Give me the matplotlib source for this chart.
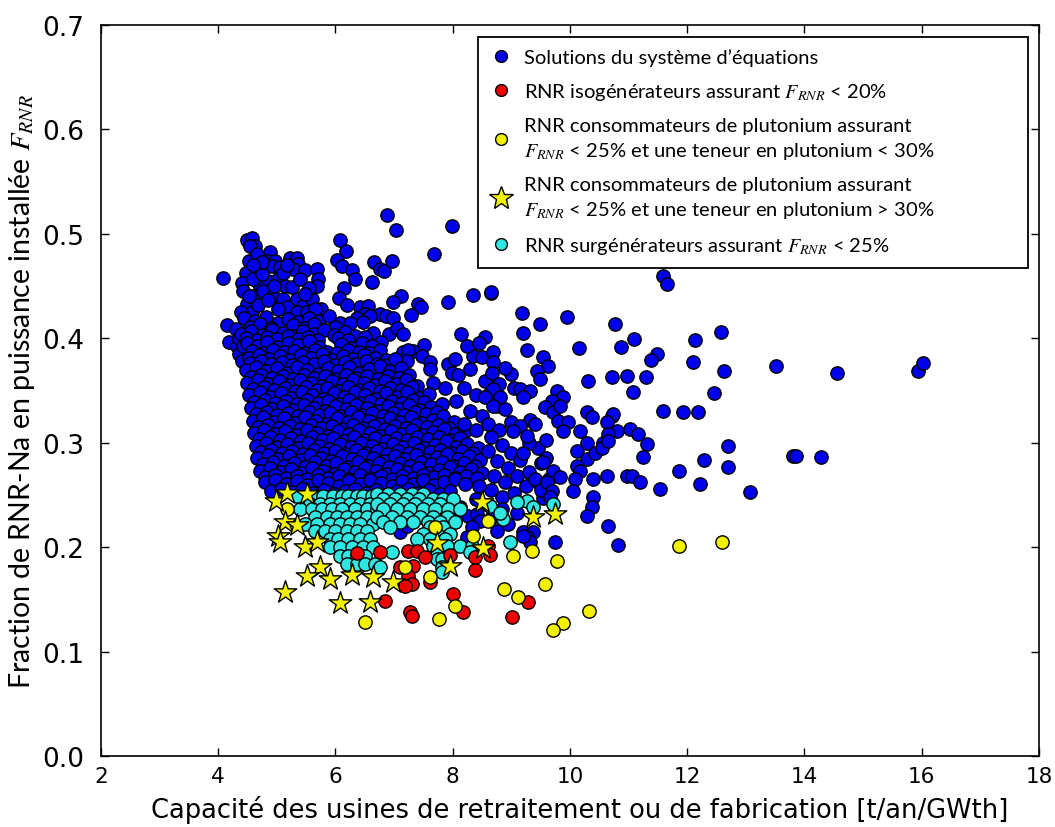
import numpy as np
import matplotlib.pyplot as plt
from matplotlib.lines import Line2D

plt.rcParams['mathtext.fontset'] = 'stix'

# points: (capacite [t/an/GWth], F_RNR)
# solutions du systeme d'equations (blue)
blue_pts = [
    # top-left fringe
    (4.50, 0.494), (4.58, 0.496), (4.63, 0.488), (4.55, 0.488), (4.52, 0.474), (4.09, 0.457),
    (4.88, 0.482), (4.83, 0.474), (4.97, 0.474), (4.92, 0.469), (4.68, 0.466), (4.70, 0.452),
    (4.48, 0.462), (5.05, 0.468), (4.85, 0.455),
    (5.22, 0.477), (5.34, 0.477), (5.36, 0.471), (5.28, 0.466),
    (5.48, 0.465), (5.69, 0.466), (5.70, 0.456), (5.69, 0.450),
    (4.41, 0.453), (4.60, 0.456), (4.75, 0.461), (5.02, 0.456), (5.14, 0.450), (5.26, 0.449), (5.40, 0.456),
    (4.43, 0.445), (4.60, 0.440), (4.77, 0.445), (4.94, 0.440), (5.11, 0.437), (5.35, 0.437), (5.45, 0.431), (5.60, 0.437),
    (4.50, 0.433), (4.58, 0.425), (5.18, 0.430), (5.35, 0.425), (5.52, 0.425), (5.75, 0.428),
    (4.16, 0.412), (4.30, 0.409), (4.18, 0.396), (4.33, 0.392), (4.35, 0.385), (4.41, 0.378),
    (4.66, 0.480), (4.75, 0.473), (4.60, 0.470), (5.10, 0.462), (5.18, 0.470), (4.95, 0.450),
    (5.55, 0.448), (5.48, 0.442), (4.68, 0.432), (4.85, 0.436), (5.02, 0.428), (5.65, 0.428),
    (4.52, 0.440), (4.40, 0.425), (4.35, 0.400), (4.42, 0.392),
    # middle fringe
    (6.88, 0.518), (7.03, 0.503), (7.99, 0.507), (7.68, 0.480), (6.08, 0.494), (6.18, 0.483),
    (6.03, 0.475), (6.11, 0.469), (6.29, 0.465), (6.34, 0.456), (6.63, 0.454), (6.66, 0.473),
    (6.76, 0.466), (6.83, 0.464), (6.97, 0.474), (6.15, 0.448), (6.07, 0.438), (6.20, 0.432),
    (7.12, 0.440), (6.99, 0.434), (7.41, 0.433), (7.46, 0.430), (7.29, 0.422), (7.93, 0.434),
    (8.35, 0.441), (8.66, 0.443), (8.15, 0.404), (8.56, 0.401), (6.92, 0.404), (7.51, 0.393),
    (6.76, 0.423), (6.86, 0.421), (6.98, 0.419), (6.42, 0.430), (6.56, 0.431), (6.51, 0.423),
    (6.59, 0.421), (6.37, 0.419), (6.47, 0.415), (7.33, 0.388), (7.48, 0.383), (7.62, 0.377),
    (7.93, 0.375), (8.04, 0.380), (7.99, 0.367), (7.87, 0.352), (8.35, 0.383), (8.51, 0.382),
    (8.69, 0.387), (8.69, 0.377), (8.55, 0.359), (8.67, 0.367), (7.67, 0.357), (7.61, 0.370),
    (7.16, 0.387), (7.24, 0.389), (7.22, 0.378), (7.05, 0.410), (7.15, 0.404), (6.65, 0.405), (6.78, 0.396),
    # dense body
    (4.45, 0.419), (4.63, 0.416), (4.81, 0.420), (5.02, 0.414), (5.19, 0.418), (5.37, 0.415),
    (5.55, 0.419), (5.72, 0.416), (5.90, 0.421), (6.08, 0.414),
    (4.54, 0.411), (4.72, 0.413), (4.90, 0.410), (5.28, 0.412), (5.46, 0.410), (5.64, 0.413),
    (5.99, 0.411), (6.25, 0.414),
    (4.40, 0.404), (4.57, 0.407), (4.75, 0.403), (4.92, 0.408), (5.10, 0.405), (5.27, 0.402),
    (5.45, 0.407), (5.63, 0.404), (5.80, 0.408), (5.98, 0.403), (6.17, 0.406), (6.34, 0.402),
    (4.48, 0.400), (4.66, 0.398), (4.83, 0.401), (5.01, 0.399), (5.19, 0.402), (5.36, 0.399),
    (5.54, 0.401), (5.71, 0.398), (6.05, 0.400), (6.22, 0.398), (6.50, 0.401),
    (4.49, 0.395), (4.67, 0.392), (4.84, 0.396), (5.02, 0.391), (5.20, 0.395), (5.37, 0.393),
    (5.55, 0.397), (5.73, 0.391), (6.10, 0.394), (6.27, 0.390), (6.45, 0.395), (6.62, 0.392),
    (4.58, 0.388), (4.76, 0.386), (4.94, 0.389), (5.12, 0.387), (5.30, 0.388), (5.48, 0.386),
    (5.66, 0.389), (5.85, 0.387), (6.03, 0.386), (6.21, 0.389), (6.40, 0.387), (6.58, 0.386), (6.76, 0.389),
    (4.52, 0.381), (4.70, 0.384), (4.87, 0.380), (5.05, 0.383), (5.23, 0.379), (5.41, 0.384),
    (5.58, 0.381), (5.77, 0.385), (5.95, 0.379), (6.13, 0.383), (6.31, 0.380), (6.49, 0.384),
    (6.67, 0.381), (6.86, 0.379),
    (4.55, 0.376), (4.73, 0.378), (4.91, 0.375), (5.09, 0.377), (5.27, 0.374), (5.45, 0.377),
    (5.63, 0.375), (5.81, 0.378), (5.99, 0.374), (6.17, 0.377), (6.35, 0.375), (6.53, 0.378),
    (6.71, 0.375), (6.89, 0.374), (7.02, 0.380),
    (4.47, 0.369), (4.64, 0.372), (4.82, 0.368), (5.00, 0.371), (5.17, 0.367), (5.35, 0.372),
    (5.52, 0.369), (5.70, 0.366), (5.87, 0.371), (6.05, 0.368), (6.23, 0.372), (6.40, 0.367),
    (6.58, 0.370), (6.76, 0.373), (6.94, 0.368), (7.12, 0.371),
    (4.56, 0.363), (4.74, 0.365), (4.92, 0.362), (5.10, 0.364), (5.28, 0.361), (5.46, 0.365),
    (5.64, 0.362), (5.82, 0.364), (6.00, 0.361), (6.18, 0.365), (6.36, 0.362), (6.54, 0.364),
    (6.72, 0.361), (6.90, 0.364), (7.08, 0.362), (7.26, 0.365),
    (4.50, 0.357), (4.69, 0.360), (4.86, 0.356), (5.04, 0.359), (5.23, 0.355), (5.40, 0.360),
    (5.59, 0.357), (5.77, 0.354), (5.95, 0.359), (6.13, 0.356), (6.30, 0.360), (6.49, 0.357),
    (6.67, 0.355), (6.85, 0.359), (7.03, 0.356), (7.21, 0.360), (7.40, 0.354),
    (4.60, 0.351), (4.78, 0.353), (4.96, 0.350), (5.14, 0.352), (5.32, 0.349), (5.50, 0.353),
    (5.68, 0.350), (5.86, 0.352), (6.04, 0.349), (6.22, 0.353), (6.40, 0.350), (6.58, 0.352),
    (6.76, 0.349), (6.94, 0.352), (7.12, 0.350), (7.31, 0.353),
    (4.53, 0.345), (4.71, 0.348), (4.89, 0.344), (5.07, 0.347), (5.25, 0.343), (5.43, 0.348),
    (5.61, 0.345), (5.79, 0.342), (5.97, 0.347), (6.15, 0.344), (6.33, 0.348), (6.51, 0.345),
    (6.69, 0.342), (6.87, 0.347), (7.05, 0.344), (7.23, 0.348), (7.42, 0.343), (7.60, 0.346),
    (4.62, 0.339), (4.80, 0.341), (4.98, 0.338), (5.16, 0.340), (5.34, 0.337), (5.52, 0.341),
    (5.70, 0.338), (5.88, 0.340), (6.06, 0.337), (6.24, 0.341), (6.42, 0.338), (6.60, 0.340),
    (6.78, 0.337), (6.96, 0.340), (7.14, 0.338), (7.33, 0.341), (7.52, 0.339),
    (4.56, 0.333), (4.74, 0.336), (4.92, 0.332), (5.10, 0.335), (5.28, 0.331), (5.46, 0.336),
    (5.64, 0.333), (5.82, 0.330), (6.00, 0.335), (6.18, 0.332), (6.36, 0.336), (6.54, 0.333),
    (6.72, 0.330), (6.90, 0.335), (7.08, 0.332), (7.26, 0.336), (7.44, 0.331), (7.63, 0.334), (7.82, 0.337),
    (4.65, 0.327), (4.83, 0.329), (5.01, 0.326), (5.19, 0.328), (5.37, 0.325), (5.55, 0.329),
    (5.73, 0.326), (5.91, 0.328), (6.09, 0.325), (6.27, 0.329), (6.45, 0.326), (6.63, 0.328),
    (6.81, 0.325), (6.99, 0.328), (7.17, 0.326), (7.36, 0.329), (7.55, 0.327), (7.73, 0.329),
    (4.59, 0.321), (4.77, 0.324), (4.95, 0.320), (5.13, 0.323), (5.31, 0.319), (5.49, 0.324),
    (5.67, 0.321), (5.85, 0.318), (6.03, 0.323), (6.21, 0.320), (6.39, 0.324), (6.57, 0.321),
    (6.75, 0.318), (6.93, 0.323), (7.11, 0.320), (7.29, 0.324), (7.47, 0.319), (7.66, 0.322),
    (7.84, 0.325), (8.03, 0.320),
    (4.68, 0.315), (4.86, 0.317), (5.04, 0.314), (5.22, 0.316), (5.40, 0.313), (5.58, 0.317),
    (5.76, 0.314), (5.94, 0.316), (6.12, 0.313), (6.30, 0.317), (6.48, 0.314), (6.66, 0.316),
    (6.84, 0.313), (7.02, 0.316), (7.20, 0.314), (7.38, 0.317), (7.57, 0.315), (7.75, 0.317), (7.94, 0.314),
    (4.61, 0.309), (4.79, 0.312), (4.97, 0.308), (5.15, 0.311), (5.33, 0.307), (5.51, 0.312),
    (5.69, 0.309), (5.87, 0.306), (6.05, 0.311), (6.23, 0.308), (6.41, 0.312), (6.59, 0.309),
    (6.77, 0.306), (6.95, 0.311), (7.13, 0.308), (7.31, 0.312), (7.49, 0.307), (7.67, 0.310),
    (7.85, 0.313), (8.04, 0.308), (8.22, 0.311),
    (4.70, 0.303), (4.88, 0.305), (5.06, 0.302), (5.24, 0.304), (5.42, 0.301), (5.60, 0.305),
    (5.78, 0.302), (5.96, 0.304), (6.14, 0.301), (6.32, 0.305), (6.50, 0.302), (6.68, 0.304),
    (6.86, 0.301), (7.04, 0.304), (7.22, 0.302), (7.40, 0.305), (7.58, 0.303), (7.76, 0.305),
    (7.95, 0.302), (8.13, 0.304),
    (4.64, 0.297), (4.82, 0.300), (5.00, 0.296), (5.18, 0.299), (5.36, 0.295), (5.54, 0.300),
    (5.72, 0.297), (5.90, 0.294), (6.08, 0.299), (6.26, 0.296), (6.44, 0.300), (6.62, 0.297),
    (6.80, 0.294), (6.98, 0.299), (7.16, 0.296), (7.34, 0.300), (7.52, 0.295), (7.70, 0.298),
    (7.88, 0.301), (8.06, 0.296), (8.25, 0.299), (8.43, 0.295),
    (4.73, 0.291), (4.91, 0.293), (5.09, 0.290), (5.27, 0.292), (5.45, 0.289), (5.63, 0.293),
    (5.81, 0.290), (5.99, 0.292), (6.17, 0.289), (6.35, 0.293), (6.53, 0.290), (6.71, 0.292),
    (6.89, 0.289), (7.07, 0.292), (7.25, 0.290), (7.43, 0.293), (7.61, 0.291), (7.79, 0.293),
    (7.97, 0.290), (8.16, 0.292), (8.35, 0.290),
    (4.67, 0.285), (4.85, 0.288), (5.03, 0.284), (5.21, 0.287), (5.39, 0.283), (5.57, 0.288),
    (5.75, 0.285), (5.93, 0.282), (6.11, 0.287), (6.29, 0.284), (6.47, 0.288), (6.65, 0.285),
    (6.83, 0.282), (7.01, 0.287), (7.19, 0.284), (7.37, 0.288), (7.55, 0.283), (7.73, 0.286),
    (7.91, 0.289), (8.09, 0.284), (8.28, 0.287), (8.46, 0.283),
    (4.76, 0.279), (4.94, 0.281), (5.12, 0.278), (5.30, 0.280), (5.48, 0.277), (5.66, 0.281),
    (5.84, 0.278), (6.02, 0.280), (6.20, 0.277), (6.38, 0.281), (6.56, 0.278), (6.74, 0.280),
    (6.92, 0.277), (7.10, 0.280), (7.28, 0.278), (7.46, 0.281), (7.64, 0.279), (7.82, 0.281),
    (8.00, 0.278), (8.19, 0.280), (8.38, 0.278),
    (4.71, 0.273), (4.89, 0.276), (5.07, 0.272), (5.25, 0.275), (5.43, 0.271), (5.61, 0.276),
    (5.79, 0.273), (5.97, 0.270), (6.15, 0.275), (6.33, 0.272), (6.51, 0.276), (6.69, 0.273),
    (6.87, 0.270), (7.05, 0.275), (7.23, 0.272), (7.41, 0.276), (7.59, 0.271), (7.77, 0.274),
    (7.95, 0.277), (8.13, 0.272), (8.32, 0.275), (8.50, 0.271),
    (4.80, 0.267), (4.98, 0.269), (5.16, 0.266), (5.34, 0.268), (5.52, 0.265), (5.70, 0.269),
    (5.88, 0.266), (6.06, 0.268), (6.24, 0.265), (6.42, 0.269), (6.60, 0.266), (6.78, 0.268),
    (6.96, 0.265), (7.14, 0.268), (7.32, 0.266), (7.50, 0.269), (7.68, 0.267), (7.86, 0.269),
    (8.04, 0.266), (8.23, 0.268), (8.41, 0.266),
    (4.80, 0.262), (4.98, 0.264), (5.16, 0.260), (5.34, 0.263), (5.52, 0.259), (5.70, 0.264),
    (5.88, 0.261), (6.06, 0.258), (6.24, 0.263), (6.42, 0.260), (6.60, 0.264), (6.78, 0.261),
    (6.96, 0.258), (7.14, 0.263), (7.32, 0.260), (7.50, 0.264), (7.68, 0.259), (7.86, 0.262),
    (8.04, 0.265), (8.22, 0.260),
    (4.90, 0.254), (5.08, 0.256), (5.26, 0.253), (5.44, 0.256), (5.62, 0.252), (5.80, 0.255),
    (5.98, 0.251), (6.16, 0.254), (6.34, 0.256), (6.52, 0.252), (6.70, 0.255), (6.88, 0.251),
    (7.06, 0.254), (7.24, 0.256), (7.42, 0.252), (7.60, 0.255), (7.78, 0.251), (7.96, 0.254),
    # right, semi dense
    (8.25, 0.392), (8.45, 0.395), (8.10, 0.365), (8.30, 0.370), (8.20, 0.352), (8.40, 0.345),
    (8.05, 0.340), (8.30, 0.330), (8.50, 0.325), (8.20, 0.318), (8.40, 0.312), (8.60, 0.318),
    (8.80, 0.312), (8.65, 0.305), (8.85, 0.298), (8.60, 0.292), (9.00, 0.290), (8.75, 0.282),
    (8.95, 0.276), (9.15, 0.283), (8.70, 0.268), (8.90, 0.262), (9.10, 0.268), (9.30, 0.272),
    (8.65, 0.255), (8.85, 0.248), (9.05, 0.252), (9.25, 0.258), (9.45, 0.262), (9.55, 0.247),
    (8.45, 0.258), (8.40, 0.246), (8.75, 0.335), (9.00, 0.320), (9.45, 0.295), (9.60, 0.302),
    (8.60, 0.345), (9.05, 0.352), (9.00, 0.366), (8.90, 0.371), (8.80, 0.356), (9.30, 0.300),
    (9.20, 0.290), (9.50, 0.280), (9.60, 0.285), (9.40, 0.265), (9.65, 0.265), (9.50, 0.255),
    # among the coloured band
    (8.13, 0.238), (8.27, 0.230), (8.42, 0.232), (8.47, 0.225), (8.76, 0.215), (8.33, 0.219),
    (9.20, 0.214), (9.37, 0.214), (9.27, 0.210), (9.32, 0.205), (8.25, 0.210), (7.10, 0.214),
    (7.22, 0.220), (7.39, 0.238), (7.50, 0.232), (7.65, 0.240), (7.80, 0.236), (7.95, 0.242),
    (8.05, 0.228), (8.65, 0.228), (8.95, 0.222), (9.10, 0.233), (7.00, 0.226), (6.95, 0.240),
    (7.30, 0.245), (8.60, 0.240), (8.85, 0.236),
    # right scatter
    (11.59, 0.459), (11.65, 0.452), (8.66, 0.444), (9.18, 0.424), (9.49, 0.413), (9.95, 0.420),
    (10.77, 0.413), (9.20, 0.405), (9.27, 0.389), (10.16, 0.390), (11.09, 0.399), (10.87, 0.391),
    (12.13, 0.398), (12.58, 0.406), (11.49, 0.385), (11.38, 0.379), (9.54, 0.382), (9.63, 0.373),
    (12.10, 0.377), (12.63, 0.368), (9.44, 0.368), (9.49, 0.361), (10.31, 0.359),
    (10.72, 0.363), (10.97, 0.364), (11.30, 0.363), (11.08, 0.348), (12.45, 0.347), (8.69, 0.351),
    (8.81, 0.344), (8.55, 0.344), (9.15, 0.351), (9.32, 0.349), (9.20, 0.344), (9.78, 0.349),
    (9.88, 0.344), (9.70, 0.340), (8.69, 0.335), (8.89, 0.332), (9.58, 0.334), (9.72, 0.329),
    (9.83, 0.335), (9.32, 0.322), (9.40, 0.318), (10.29, 0.329), (10.38, 0.324), (10.72, 0.325),
    (10.74, 0.327), (11.59, 0.330), (11.93, 0.329), (12.19, 0.329), (9.15, 0.316), (9.03, 0.311),
    (9.27, 0.306), (9.80, 0.321), (9.97, 0.320), (9.88, 0.311), (10.17, 0.311), (10.29, 0.300),
    (10.12, 0.292), (10.63, 0.320), (10.80, 0.311), (10.65, 0.308), (10.57, 0.300), (11.02, 0.313),
    (11.16, 0.308), (11.31, 0.299), (11.24, 0.286), (10.97, 0.268), (11.06, 0.268), (11.20, 0.262),
    (11.54, 0.256), (11.86, 0.273), (12.22, 0.260), (12.29, 0.283), (12.70, 0.297), (12.70, 0.277),
    (10.29, 0.284), (10.12, 0.278), (10.17, 0.273), (10.09, 0.265), (10.63, 0.268),
    (10.40, 0.265), (10.06, 0.254), (10.40, 0.248), (10.38, 0.238), (10.29, 0.230), (10.65, 0.220),
    (10.82, 0.202), (9.75, 0.205), (9.20, 0.211), (9.54, 0.281), (9.72, 0.273), (9.83, 0.267),
    (9.61, 0.262), (9.70, 0.254), (9.66, 0.248), (10.43, 0.290), (10.55, 0.295), (10.65, 0.301),
    # far right
    (13.07, 0.253), (13.51, 0.373), (14.55, 0.367), (13.81, 0.287), (13.86, 0.287), (14.28, 0.286),
    (15.94, 0.368), (16.03, 0.376),
]

# RNR surgenerateurs (cyan)
cyan_pts = [
    (5.35, 0.249), (5.66, 0.249), (5.79, 0.249), (5.96, 0.249), (6.12, 0.249), (6.22, 0.249),
    (6.37, 0.249), (6.47, 0.249), (6.63, 0.249),
    (5.57, 0.241), (5.74, 0.241), (5.91, 0.241), (6.08, 0.241), (6.25, 0.241), (6.42, 0.241), (6.59, 0.241),
    (5.40, 0.236), (5.61, 0.236), (5.78, 0.236), (5.95, 0.236), (6.12, 0.236), (6.34, 0.236),
    (6.54, 0.236), (6.71, 0.236),
    (5.66, 0.229), (5.86, 0.229), (6.03, 0.229), (6.20, 0.229), (6.37, 0.229), (6.54, 0.229),
    (5.48, 0.222), (5.69, 0.222), (5.91, 0.222), (6.08, 0.222), (6.25, 0.222), (6.42, 0.222), (6.64, 0.222),
    (5.66, 0.215), (5.83, 0.215), (6.00, 0.215), (6.20, 0.215), (6.37, 0.215), (6.54, 0.215),
    (5.91, 0.208), (6.05, 0.208), (6.22, 0.208), (6.42, 0.208), (6.59, 0.208),
    (5.91, 0.200), (6.08, 0.200), (6.29, 0.200), (6.47, 0.200), (6.64, 0.200),
    (6.08, 0.191), (6.22, 0.191), (6.37, 0.191), (6.51, 0.191),
    (6.20, 0.184), (6.37, 0.184), (6.51, 0.184), (6.68, 0.184),
    (6.71, 0.251), (6.90, 0.251), (7.11, 0.251), (7.31, 0.251), (7.50, 0.251),
    (6.82, 0.246), (7.02, 0.246), (7.22, 0.246), (7.42, 0.246), (7.67, 0.246), (7.84, 0.246), (8.01, 0.246),
    (6.71, 0.241), (6.93, 0.241), (7.16, 0.241), (7.36, 0.241), (7.58, 0.241), (7.78, 0.241),
    (6.82, 0.236), (7.06, 0.236), (7.27, 0.236), (7.50, 0.236), (7.70, 0.236), (7.93, 0.236), (8.13, 0.236),
    (6.71, 0.229), (6.96, 0.229), (7.22, 0.229), (7.44, 0.229), (7.67, 0.229), (7.91, 0.229),
    (6.82, 0.224), (7.11, 0.224), (7.33, 0.224), (7.58, 0.224), (7.78, 0.224), (8.04, 0.224),
    (6.93, 0.219), (7.61, 0.219), (7.84, 0.219),
    (7.50, 0.212), (7.74, 0.212), (7.96, 0.212),
    (7.39, 0.208), (7.61, 0.208), (7.87, 0.208),
    (7.67, 0.201), (7.91, 0.201), (8.13, 0.201), (8.33, 0.201),
    (6.96, 0.195), (7.74, 0.195), (8.30, 0.195),
    (7.74, 0.189), (7.82, 0.189), (6.76, 0.181), (7.82, 0.181), (7.82, 0.176),
    (8.64, 0.239), (8.86, 0.227), (9.27, 0.244), (9.37, 0.238), (8.98, 0.205), (9.10, 0.243),
    (8.81, 0.233), (9.72, 0.241),
]

# RNR isogenerateurs (red)
red_pts = [
    (6.76, 0.195), (7.24, 0.196), (7.39, 0.196), (7.53, 0.190), (7.96, 0.192), (7.11, 0.181),
    (7.33, 0.182), (7.24, 0.172), (7.31, 0.165), (7.19, 0.163), (8.38, 0.178), (8.61, 0.201),
    (8.38, 0.190), (8.01, 0.155), (8.18, 0.138), (6.85, 0.148), (7.28, 0.138), (7.31, 0.134),
    (9.29, 0.147), (9.02, 0.133), (7.61, 0.167), (6.37, 0.194), (8.64, 0.192),
]

# RNR consommateurs, teneur < 30% (yellow circles)
yellow_pts = [
    (8.61, 0.225), (7.70, 0.219), (8.35, 0.211), (9.03, 0.191), (9.36, 0.196), (7.19, 0.181),
    (7.61, 0.171), (8.87, 0.160), (9.12, 0.152), (9.58, 0.165), (8.04, 0.144), (7.76, 0.131),
    (6.51, 0.128), (5.18, 0.236), (11.86, 0.201), (12.60, 0.205), (9.78, 0.187), (10.33, 0.139),
    (9.88, 0.127), (9.72, 0.121),
]

# RNR consommateurs, teneur > 30% (yellow stars)
star_pts = [
    (4.99, 0.244), (5.18, 0.252), (5.52, 0.251), (5.14, 0.224), (5.35, 0.221), (5.02, 0.211),
    (5.06, 0.205), (5.48, 0.200), (5.69, 0.205), (5.74, 0.181), (5.52, 0.172), (5.91, 0.169),
    (6.29, 0.173), (5.14, 0.157), (6.08, 0.146), (6.59, 0.147), (6.64, 0.171), (8.50, 0.243),
    (9.37, 0.229), (7.73, 0.204), (8.52, 0.199), (7.96, 0.182), (6.99, 0.167), (9.75, 0.232),
]

labels = [
    "Solutions du système d’équations",
    "RNR isogénérateurs assurant $F_{RNR}$ < 20%",
    "RNR consommateurs de plutonium assurant\n$F_{RNR}$ < 25% et une teneur en plutonium < 30%",
    "RNR consommateurs de plutonium assurant\n$F_{RNR}$ < 25% et une teneur en plutonium > 30%",
    "RNR surgénérateurs assurant $F_{RNR}$ < 25%",
]

c_blue = '#0000ee'
c_red = '#ee0000'
c_yel = '#f2f200'
c_cyan = '#30e6e0'

blue = np.array(blue_pts)
cyan = np.array(cyan_pts)
red = np.array(red_pts)
yel = np.array(yellow_pts)
star = np.array(star_pts)

fig = plt.figure(figsize=(10.55, 8.28), dpi=100)
ax = fig.add_axes([0.0955, 0.0857, 0.8893, 0.8835])

ms = 92
ax.scatter(blue[:, 0], blue[:, 1], s=ms, c=c_blue, edgecolors='k', linewidths=1.0, zorder=2)
ax.scatter(cyan[:, 0], cyan[:, 1], s=ms, c=c_cyan, edgecolors='k', linewidths=1.0, zorder=3)
ax.scatter(red[:, 0], red[:, 1], s=ms, c=c_red, edgecolors='k', linewidths=1.0, zorder=4)
ax.scatter(yel[:, 0], yel[:, 1], s=ms, c=c_yel, edgecolors='k', linewidths=1.0, zorder=5)
ax.scatter(star[:, 0], star[:, 1], s=290, marker='*', c=c_yel, edgecolors='k', linewidths=1.0, zorder=6)

ax.set_xlim(2, 18)
ax.set_ylim(0, 0.7)
ax.set_xticks(np.arange(2, 19, 2))
ax.set_yticks(np.arange(0, 0.71, 0.1))
ax.set_yticklabels(['%.1f' % v for v in np.arange(0, 0.71, 0.1)])
ax.tick_params(direction='in', top=True, right=True, length=6, width=1)
ax.tick_params(axis='x', pad=7, labelsize=15.5)
ax.tick_params(axis='y', pad=12, labelsize=19)
for sp in ax.spines.values():
    sp.set_linewidth(1.2)

ax.set_xlabel('Capacité des usines de retraitement ou de fabrication [t/an/GWth]', fontsize=18.5)
ax.xaxis.set_label_coords(0.51, -0.053)
ax.set_ylabel('Fraction de RNR-Na en puissance installée $F_{RNR}$', fontsize=20.5, family='Lato')
ax.yaxis.set_label_coords(-0.068, 0.5)

handles = [
    Line2D([], [], ls='', marker='o', mfc=c_blue, mec='k', ms=8.5),
    Line2D([], [], ls='', marker='o', mfc=c_red, mec='k', ms=8.5),
    Line2D([], [], ls='', marker='o', mfc=c_yel, mec='k', ms=8.5),
    Line2D([], [], ls='', marker='*', mfc=c_yel, mec='k', ms=18),
    Line2D([], [], ls='', marker='o', mfc=c_cyan, mec='k', ms=8.5),
]
leg = ax.legend(handles, labels, loc='upper left', bbox_to_anchor=(0.402, 0.668, 0.586, 0.315),
                mode='expand', prop={'family': 'Lato', 'size': 14.5}, fancybox=False,
                borderaxespad=0, handlelength=1.2, handletextpad=0.55, borderpad=0.55,
                labelspacing=0.75, framealpha=1)
leg.get_frame().set_edgecolor('k')
leg.get_frame().set_linewidth(1.3)
for t in leg.get_texts():
    t.set_linespacing(1.38)

fig.savefig('out.png', dpi=100)
